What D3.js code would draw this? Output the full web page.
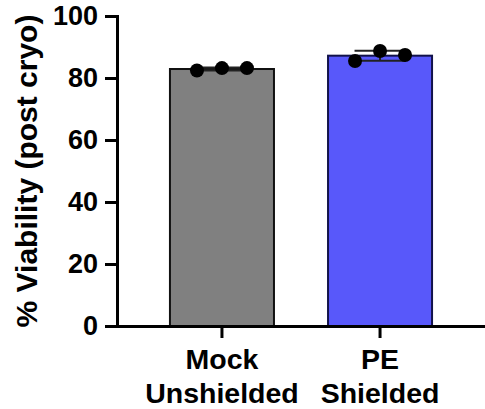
<!DOCTYPE html>
<html>
<head>
<meta charset="utf-8">
<script src="https://cdn.jsdelivr.net/npm/d3@7"></script>
<style>
  body { margin: 0; background: #fff; }
  svg { display: block; font-family: "Liberation Sans", Arial, sans-serif; font-weight: bold; }
</style>
</head>
<body>
<svg width="485" height="409"></svg>
<script>
// data
var categories = ["Mock|Unshielded", "PE|Shielded"];
var means = [82.9, 87.2];
var sds = [0.5, 1.6];
var points = [[82.4, 83.2, 83.2], [85.5, 88.7, 87.4]];
var barColors = ["#808080", "#5858fa"];
var barStrokes = ["#111111", "#12124a"];
var yTicks = [0, 20, 40, 60, 80, 100];
var yTitle = "% Viability (post cryo)";

var svg = d3.select("svg");

var x = d3.scaleBand().domain(categories).range([117, 485])
	.paddingInner(0.342).paddingOuter(0.335);
var y = d3.scaleLinear().domain([0, 100]).range([326, 16]);

// bars
svg.append("g").selectAll("rect")
	.data(categories)
	.enter()
	.append("rect")
	.attr("x", d => x(d))
	.attr("width", x.bandwidth())
	.attr("y", (d, i) => y(means[i]))
	.attr("height", (d, i) => y(0) - y(means[i]))
	.style("fill", (d, i) => barColors[i])
	.style("stroke", (d, i) => barStrokes[i])
	.style("stroke-width", 2);

// error bars (mean +/- sd)
var capHalf = 25.5;
var eb = svg.append("g").style("stroke", "#222").style("stroke-width", 2).style("fill", "none");
categories.forEach(function(c, i){
	var cx = x(c) + x.bandwidth() / 2;
	var hi = y(means[i] + sds[i]), lo = y(means[i] - sds[i]);
	eb.append("line").attr("x1", cx).attr("x2", cx).attr("y1", hi).attr("y2", lo);
	eb.append("line").attr("x1", cx - capHalf).attr("x2", cx + capHalf).attr("y1", hi).attr("y2", hi);
	eb.append("line").attr("x1", cx - capHalf).attr("x2", cx + capHalf).attr("y1", lo).attr("y2", lo);
});

// individual points
var offsets = [-25, 0, 25];
categories.forEach(function(c, i){
	var cx = x(c) + x.bandwidth() / 2;
	svg.append("g").selectAll("circle")
		.data(points[i])
		.enter()
		.append("circle")
		.attr("cx", (d, j) => cx + offsets[j])
		.attr("cy", d => y(d))
		.attr("r", 7)
		.style("fill", "#000");
});

// axes
var yAxis = d3.axisLeft(y).tickValues(yTicks).tickSize(12).tickSizeOuter(0).tickPadding(7);
var yg = svg.append("g").attr("transform", "translate(117,0)").call(yAxis);
yg.selectAll("text").style("font-size", "27px").style("font-weight", "bold").style("fill", "#000")
	.attr("font-family", null);

var xAxis = d3.axisBottom(x).tickSize(12).tickSizeOuter(0).tickFormat("");
var xg = svg.append("g").attr("transform", "translate(0,326)").call(xAxis);

svg.selectAll(".domain, .tick line").style("stroke", "#000").style("stroke-width", 3);
svg.selectAll(".domain").attr("stroke-linecap", "square");

// x labels, two lines each
categories.forEach(function(c){
	var cx = x(c) + x.bandwidth() / 2;
	var parts = c.split("|");
	var t = svg.append("text").attr("text-anchor", "middle").style("font-size", "28.5px");
	t.append("tspan").attr("x", cx).attr("y", 369).text(parts[0]);
	t.append("tspan").attr("x", cx).attr("y", 403).text(parts[1]);
});

// y title
svg.append("text")
	.attr("transform", "translate(37,171) rotate(-90)")
	.attr("text-anchor", "middle")
	.style("font-size", "30px")
	.text(yTitle);
</script>
</body>
</html>
